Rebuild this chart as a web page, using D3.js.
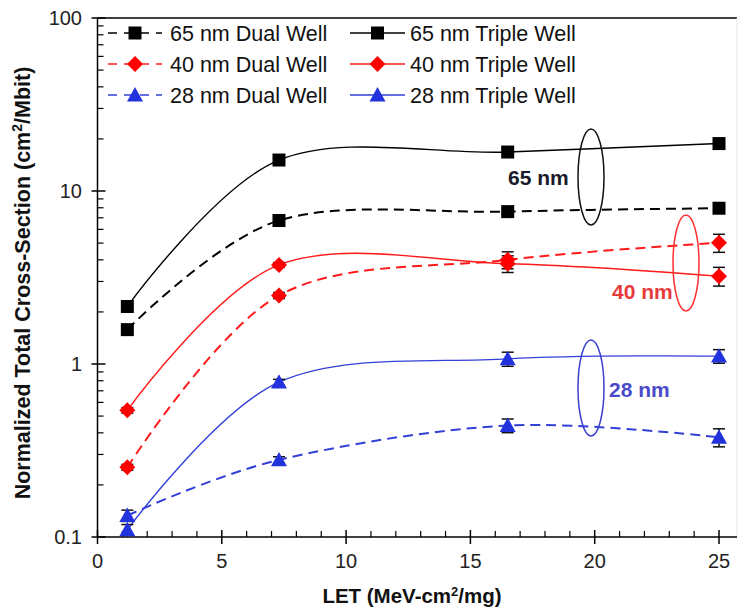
<!DOCTYPE html>
<html>
<head>
<meta charset="utf-8">
<script src="https://cdn.jsdelivr.net/npm/d3@7"></script>
<style>
  html, body { margin: 0; padding: 0; background: #fff; }
  svg { display: block; font-family: Arial, "Liberation Sans", sans-serif; }
</style>
</head>
<body>
<svg id="chart" width="740" height="611"></svg>
<script>
// ---- data ----
const letValues = [1.2, 7.3, 16.5, 25];
const dual65   = [1.58, 6.75, 7.6, 7.95];
const triple65 = [2.15, 15.1, 16.8, 18.8];
const dual40   = [0.253, 2.49, 4.0, 5.02];
const triple40 = [0.54, 3.74, 3.8, 3.22];
const dual28   = [0.133, 0.279, 0.441, 0.377];
const triple28 = [0.110, 0.785, 1.07, 1.11];
const errDual65   = [0.03, 0.2, 0.3, 0.3];
const errTriple65 = [0.05, 0.5, 0.8, 0.8];
const errDual40   = [0.01, 0.1, 0.45, 0.6];
const errTriple40 = [0.02, 0.12, 0.42, 0.4];
const errDual28   = [0.01, 0.012, 0.04, 0.045];
const errTriple28 = [0.008, 0.03, 0.1, 0.1];
const seriesNames = ["65 nm Dual Well", "65 nm Triple Well", "40 nm Dual Well", "40 nm Triple Well", "28 nm Dual Well", "28 nm Triple Well"];
const xTicks = [0, 5, 10, 15, 20, 25];
const xTickLabels = ["0", "5", "10", "15", "20", "25"];
const yTicks = [0.1, 1, 10, 100];
const yTickLabels = ["0.1", "1", "10", "100"];
const groupLabels = ["65 nm", "40 nm", "28 nm"];

const series = [
  {name: seriesNames[0], vals: dual65,   err: errDual65,   color: "#000000", dash: true,  marker: "square"},
  {name: seriesNames[1], vals: triple65, err: errTriple65, color: "#000000", dash: false, marker: "square"},
  {name: seriesNames[2], vals: dual40,   err: errDual40,   color: "#ff1a1a", dash: true,  marker: "diamond"},
  {name: seriesNames[3], vals: triple40, err: errTriple40, color: "#ff1a1a", dash: false, marker: "diamond"},
  {name: seriesNames[4], vals: dual28,   err: errDual28,   color: "#3340d8", dash: true,  marker: "triangle"},
  {name: seriesNames[5], vals: triple28, err: errTriple28, color: "#3340d8", dash: false, marker: "triangle"}
];
const markerFill = {square: "#000000", diamond: "#ff0000", triangle: "#2233dd"};

const svg = d3.select("#chart");
const x = d3.scaleLinear().domain([0, 25]).range([97.5, 719]);
const y = d3.scaleLog().domain([0.1, 100]).range([537, 18]);
const x0 = x(0), yB = y(0.1), yT = y(100), xR = 737;

// frame
svg.append("line").attr("x1", x0).attr("x2", xR).attr("y1", yT).attr("y2", yT).attr("stroke", "#000").attr("stroke-width", 1.5);
svg.append("line").attr("x1", xR).attr("x2", xR).attr("y1", yT).attr("y2", yB).attr("stroke", "#e4e4e4").attr("stroke-width", 1);

// y axis
const yAxis = svg.append("g");
yAxis.append("line").attr("x1", x0).attr("x2", x0).attr("y1", yT).attr("y2", yB).attr("stroke", "#000").attr("stroke-width", 1.5);
const minor = [];
for (let d = 0.1; d < 100; d *= 10) for (let k = 2; k <= 9; k++) minor.push(+(d * k).toPrecision(3));
yAxis.selectAll(".ymin").data(minor).join("line")
  .attr("x1", x0).attr("x2", x0 + 6).attr("y1", d => y(d)).attr("y2", d => y(d))
  .attr("stroke", "#000").attr("stroke-width", 1.2);
yAxis.selectAll(".ymaj").data(yTicks).join("line")
  .attr("x1", x0 - 6).attr("x2", x0 + 8).attr("y1", d => y(d)).attr("y2", d => y(d))
  .attr("stroke", "#000").attr("stroke-width", 1.5);
yAxis.selectAll(".ylab").data(yTicks).join("text")
  .attr("x", 82).attr("y", d => y(d)).attr("dy", "0.35em").attr("text-anchor", "end")
  .attr("font-size", 20).attr("fill", "#222").text((d, i) => yTickLabels[i]);

// x axis
const xAxis = svg.append("g");
xAxis.append("line").attr("x1", x0).attr("x2", xR).attr("y1", yB).attr("y2", yB).attr("stroke", "#000").attr("stroke-width", 1.5);
xAxis.selectAll(".xmin").data(d3.range(1, 26).filter(v => v % 5 !== 0)).join("line")
  .attr("x1", d => x(d)).attr("x2", d => x(d)).attr("y1", yB - 6).attr("y2", yB)
  .attr("stroke", "#000").attr("stroke-width", 1.2);
xAxis.selectAll(".xmaj").data(xTicks).join("line")
  .attr("x1", d => x(d)).attr("x2", d => x(d)).attr("y1", yB - 7).attr("y2", yB + 7)
  .attr("stroke", "#000").attr("stroke-width", 1.5);
xAxis.selectAll(".xlab").data(xTicks).join("text")
  .attr("x", d => x(d)).attr("y", 568).attr("text-anchor", "middle")
  .attr("font-size", 20).attr("fill", "#222").text((d, i) => xTickLabels[i]);

// axis titles
svg.append("text").attr("x", 412).attr("y", 603).attr("text-anchor", "middle")
  .attr("font-size", 20.5).attr("font-weight", "bold").attr("fill", "#111")
  .html('LET (MeV-cm<tspan baseline-shift="super" font-size="13">2</tspan>/mg)');
svg.append("text").attr("transform", "translate(30,283) rotate(-90)").attr("text-anchor", "middle")
  .attr("font-size", 21.5).attr("font-weight", "bold").attr("fill", "#111")
  .html('Normalized Total Cross-Section (cm<tspan baseline-shift="super" font-size="14">2</tspan>/Mbit)');

// marker path
function markerPath(type, cx, cy) {
  if (type === "square") { const s = 6.5; return `M${cx-s},${cy-s}h${2*s}v${2*s}h${-2*s}Z`; }
  if (type === "diamond") { const s = 8; return `M${cx},${cy-s}L${cx+s},${cy}L${cx},${cy+s}L${cx-s},${cy}Z`; }
  const s = 8; return `M${cx},${cy-s}L${cx+s},${cy+s*0.8}L${cx-s},${cy+s*0.8}Z`;
}

const line = d3.line().x(d => x(d[0])).y(d => y(d[1])).curve(d3.curveCatmullRom.alpha(0));
const plot = svg.append("g");
series.forEach(s => {
  const pts = letValues.map((l, i) => [l, s.vals[i]]);
  plot.append("path").attr("d", line(pts)).attr("fill", "none").attr("stroke", s.color)
    .attr("stroke-width", s.dash ? 2 : 1.4).attr("stroke-dasharray", s.dash ? "10,6" : null);
});
// error bars
series.forEach(s => {
  letValues.forEach((l, i) => {
    const cx = x(l), top = y(s.vals[i] + s.err[i]), bot = y(s.vals[i] - s.err[i]);
    const g = plot.append("g").attr("stroke", "#111").attr("stroke-width", 1.5);
    g.append("line").attr("x1", cx).attr("x2", cx).attr("y1", top).attr("y2", bot);
    g.append("line").attr("x1", cx - 6).attr("x2", cx + 6).attr("y1", top).attr("y2", top);
    g.append("line").attr("x1", cx - 6).attr("x2", cx + 6).attr("y1", bot).attr("y2", bot);
  });
});
// markers
series.forEach(s => {
  letValues.forEach((l, i) => {
    plot.append("path").attr("d", markerPath(s.marker, x(l), y(s.vals[i]))).attr("fill", markerFill[s.marker]);
  });
});

// legend
const legRows = [33, 64, 95];
const legCols = [{x1: 108, x2: 162, tx: 170}, {x1: 350, x2: 405, tx: 410}];
series.forEach((s, i) => {
  const col = legCols[i % 2], ry = legRows[Math.floor(i / 2)];
  svg.append("line").attr("x1", col.x1).attr("x2", col.x2).attr("y1", ry).attr("y2", ry)
    .attr("stroke", s.color).attr("stroke-width", 1.5).attr("stroke-dasharray", s.dash ? "9,7" : null);
  svg.append("path").attr("d", markerPath(s.marker, (col.x1 + col.x2) / 2, ry)).attr("fill", markerFill[s.marker]);
  svg.append("text").attr("x", col.tx).attr("y", ry).attr("dy", "0.35em")
    .attr("font-size", 21.5).attr("fill", "#111").text(s.name);
});

// group annotations (ellipses + labels)
const ann = [
  {cx: 591, cy: 177, color: "#111111", tx: 508, ty: 178, tcol: "#1a1a2a"},
  {cx: 686, cy: 263, color: "#ff3030", tx: 612, ty: 292, tcol: "#e83a3a"},
  {cx: 591, cy: 388, color: "#3a40d0", tx: 609, ty: 390, tcol: "#4a4ac8"}
];
ann.forEach((a, i) => {
  svg.append("ellipse").attr("cx", a.cx).attr("cy", a.cy).attr("rx", 13).attr("ry", 48)
    .attr("fill", "none").attr("stroke", a.color).attr("stroke-width", 1.5);
  svg.append("text").attr("x", a.tx).attr("y", a.ty).attr("dy", "0.35em")
    .attr("font-size", 21).attr("font-weight", "bold").attr("fill", a.tcol).text(groupLabels[i]);
});
</script>
</body>
</html>
